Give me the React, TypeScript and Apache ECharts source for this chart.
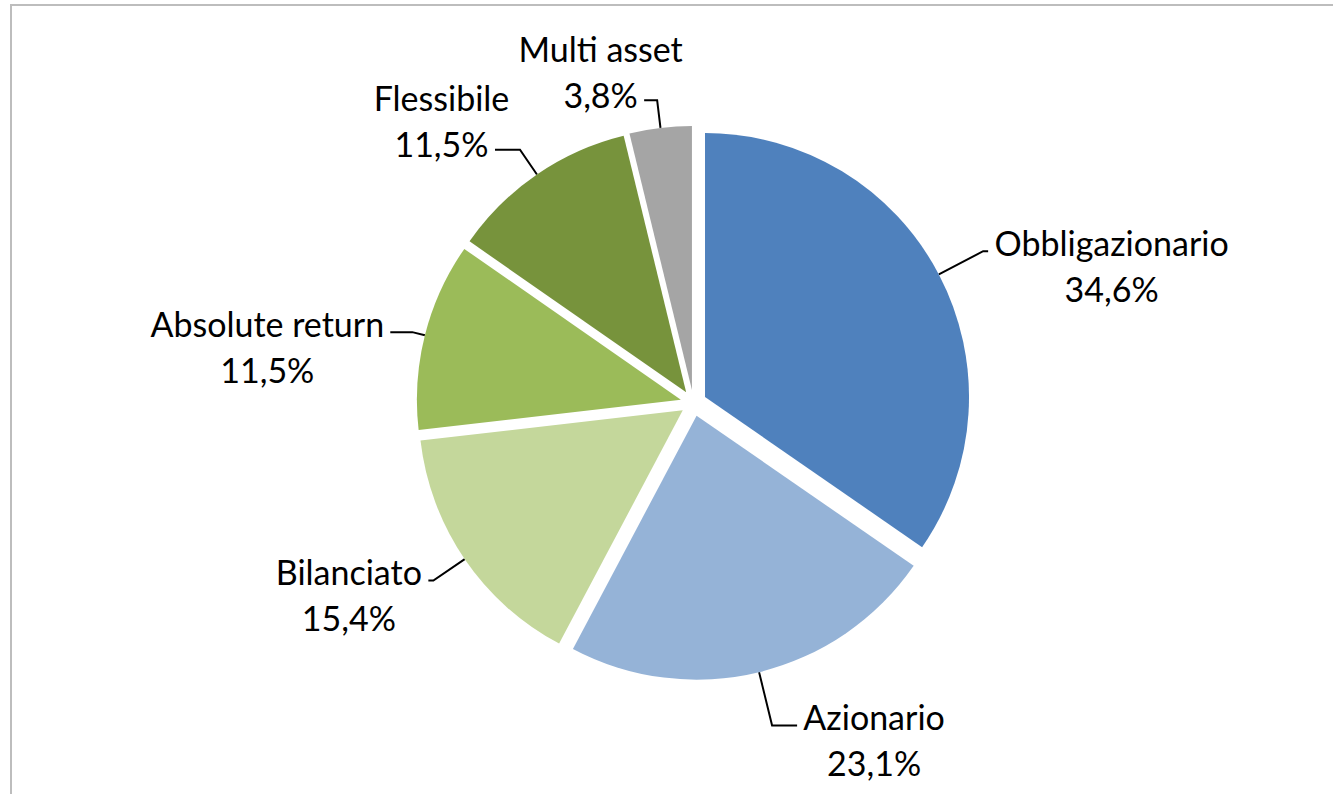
import React, { useEffect, useRef } from 'react';
import * as echarts from 'echarts';

const categories = ['Obbligazionario', 'Azionario', 'Bilanciato', 'Absolute return', 'Flessibile', 'Multi asset'];
const shares = [34.6, 23.1, 15.4, 11.5, 11.5, 3.8];
const colors = ['#4F81BD', '#95B3D7', '#C4D79B', '#9BBB59', '#77933C', '#A5A5A5'];
const lineLen1 = [50, 55, 38, 13, 30, 28];
const lineLen2 = [5, 25, 5, 22, 25, 13];
const labelAbove = [false, false, false, false, true, true];

const FONT = 'Lato';
const FS = 34;
const LH = 46;

function fmtPct(v: number): string {
  return v.toFixed(1).replace('.', ',') + '%';
}

export default function App() {
  const ref = useRef<HTMLDivElement>(null);
  useEffect(() => {
    if (!ref.current) return;
    const chart = echarts.init(ref.current, undefined, { renderer: 'svg' });
    const ctx = document.createElement('canvas').getContext('2d')!;
    ctx.font = `${FS}px ${FONT}`;
    const data = categories.map((name, i) => {
      const pct = fmtPct(shares[i]);
      const base = { align: 'center', fontSize: FS, fontFamily: FONT, color: '#000', lineHeight: LH };
      const above = labelAbove[i];
      const wName = Math.ceil(ctx.measureText(name).width);
      const wPct = Math.ceil(ctx.measureText(pct).width);
      const n = above ? { ...base, width: wPct } : { ...base, width: wName };
      const p = above ? { ...base, width: wPct } : { ...base, width: wName };
      return {
        name,
        value: shares[i],
        selected: true,
        itemStyle: { color: colors[i] },
        label: {
          padding: above ? [0, 0, 58, 0] : [28, 0, 0, 0],
          formatter: `{n|${name}}\n{p|${pct}}`,
          rich: { n, p },
        },
        labelLine: { length: lineLen1[i], length2: lineLen2[i] },
      };
    });
    chart.setOption({
      animation: false,
      backgroundColor: '#fff',
      graphic: [
        {
          type: 'rect',
          shape: { x: 11, y: 5, width: 1400, height: 900 },
          style: { fill: 'none', stroke: '#BDBDBD', lineWidth: 2 },
          silent: true,
        },
      ],
      series: [
        {
          type: 'pie',
          startAngle: 90,
          clockwise: true,
          center: [693.5, 403],
          radius: 264,
          selectedMode: 'multiple',
          selectedOffset: 13,
          avoidLabelOverlap: false,
          silent: true,
          emphasis: { disabled: true },
          itemStyle: { borderWidth: 0 },
          label: {
            show: true,
            position: 'outside',
            distanceToLabelLine: 6,
          },
          labelLine: {
            show: true,
            smooth: false,
            lineStyle: { color: '#000', width: 2 },
          },
          data,
        },
      ],
    });
    return () => chart.dispose();
  }, []);
  return (
    <div
      ref={ref}
      style={{ position: 'absolute', left: 0, top: 0, width: 1333, height: 794 }}
    />
  );
}
